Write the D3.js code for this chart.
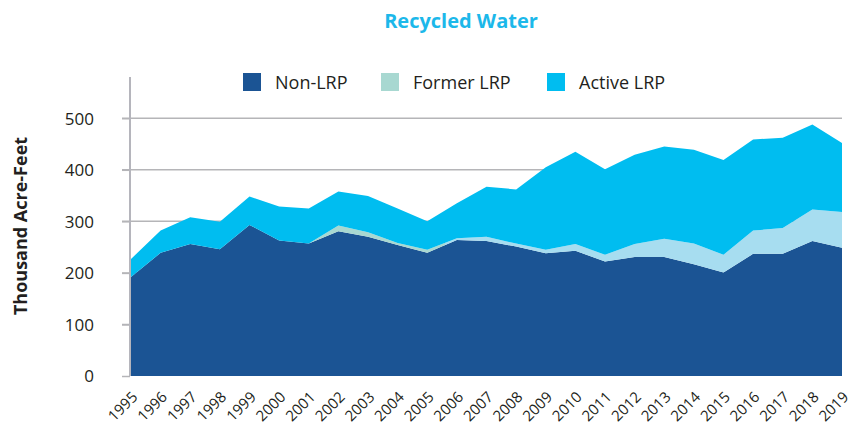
<!DOCTYPE html>
<html>
<head>
<meta charset="utf-8">
<script src="https://cdn.jsdelivr.net/npm/d3@7"></script>
<style>
  body { margin: 0; background: #fff; }
  text { font-family: "Open Sans", "Noto Sans", sans-serif; fill: #231f20; }
</style>
</head>
<body>
<div id="chart"></div>
<script>
// data, thousand acre-feet
const years = [1995, 1996, 1997, 1998, 1999, 2000, 2001, 2002, 2003, 2004, 2005, 2006,
  2007, 2008, 2009, 2010, 2011, 2012, 2013, 2014, 2015, 2016, 2017, 2018, 2019];
const nonLRP = [192, 239, 256, 246, 293, 263, 257, 281, 270, 254, 239, 264,
  262, 251, 238, 243, 222, 231, 231, 217, 201, 237, 237, 262, 249];
const formerLRP = [0, 0, 0, 0, 0, 0, 0, 11, 9, 4, 6, 3,
  8, 6, 7, 13, 13, 25, 35, 40, 34, 45, 50, 61, 69];
const activeLRP = [35, 43, 52, 53, 55, 66, 68, 66, 70, 67, 55, 68,
  97, 105, 160, 179, 166, 173, 179, 182, 184, 177, 175, 165, 134];
const seriesNames = ["Non-LRP", "Former LRP", "Active LRP"];
const yTicks = [0, 100, 200, 300, 400, 500];

const width = 864, height = 436;
const colors = { "Non-LRP": "#1b5494", "Former LRP": "url(#formerGrad)", "Active LRP": "#00bdf0" };
const swatch = { "Non-LRP": "#1b5494", "Former LRP": "#a8d8d1", "Active LRP": "#00bdf0" };

const svg = d3.select("#chart")
  .append("svg")
  .attr("width", width)
  .attr("height", height);

const x = d3.scaleLinear()
  .domain([1995, 2019])
  .range([131, 842]);

const y = d3.scaleLinear()
  .domain([0, 580])
  .range([376, 77]);

const table = years.map((yr, i) => ({
  year: yr,
  "Non-LRP": nonLRP[i],
  "Former LRP": formerLRP[i],
  "Active LRP": activeLRP[i]
}));
const stacked = d3.stack().keys(seriesNames)(table);

// former LRP band changes tint from mint to light blue around 2006
const grad = svg.append("defs").append("linearGradient")
  .attr("id", "formerGrad")
  .attr("gradientUnits", "userSpaceOnUse")
  .attr("x1", x(1995)).attr("x2", x(2019))
  .attr("y1", 0).attr("y2", 0);
const cut = (x(2005.6) - x(1995)) / (x(2019) - x(1995));
grad.append("stop").attr("offset", 0).attr("stop-color", "#a8d8d1");
grad.append("stop").attr("offset", cut).attr("stop-color", "#a8d8d1");
grad.append("stop").attr("offset", cut).attr("stop-color", "#a7ddf0");
grad.append("stop").attr("offset", 1).attr("stop-color", "#a7ddf0");

// gridlines
svg.append("g")
  .selectAll("line")
  .data(yTicks.filter(d => d > 0))
  .join("line")
  .attr("x1", 122)
  .attr("x2", 842)
  .attr("y1", d => y(d))
  .attr("y2", d => y(d))
  .attr("stroke", "#b5b5b8")
  .attr("stroke-width", 1.5);

// areas
const area = d3.area()
  .x(d => x(d.data.year))
  .y0(d => y(d[0]))
  .y1(d => y(d[1]));

svg.append("g")
  .selectAll("path")
  .data(stacked)
  .join("path")
  .attr("d", area)
  .attr("fill", d => colors[d.key]);

// y axis
const yAxis = svg.append("g")
  .attr("transform", "translate(130,0)")
  .call(d3.axisLeft(y).tickValues(yTicks).tickSize(8).tickPadding(28));
yAxis.select(".domain").remove();
yAxis.selectAll(".tick line").attr("stroke", "#b5b5b8").attr("stroke-width", 1.5);
yAxis.selectAll("text")
  .style("font-size", "17px")
  .attr("fill", "#231f20")
  .attr("dy", "0.35em");

svg.append("line")
  .attr("x1", 130).attr("x2", 130)
  .attr("y1", y(580)).attr("y2", y(0))
  .attr("stroke", "#b5b5bc")
  .attr("stroke-width", 2);

// x axis labels
const xAxis = svg.append("g")
  .attr("transform", "translate(0,376)")
  .call(d3.axisBottom(x).tickValues(years).tickFormat(d3.format("d")).tickSize(0));
xAxis.select(".domain").remove();
xAxis.selectAll("text")
  .style("font-size", "15px")
  .attr("fill", "#231f20")
  .attr("text-anchor", "end")
  .attr("y", 0)
  .attr("dy", 0)
  .attr("transform", "translate(7,22) rotate(-45)");

// y axis title
svg.append("text")
  .attr("transform", "translate(27,226) rotate(-90)")
  .attr("text-anchor", "middle")
  .style("font-size", "18px")
  .style("font-weight", "bold")
  .text("Thousand Acre-Feet");

// title
svg.append("text")
  .attr("x", 461)
  .attr("y", 28)
  .attr("text-anchor", "middle")
  .style("font-size", "20px")
  .style("font-weight", "bold")
  .style("fill", "#1cb8ea")
  .text("Recycled Water");

// legend
const legendX = [243, 381, 547];
const legend = svg.append("g")
  .selectAll("g")
  .data(seriesNames)
  .join("g")
  .attr("transform", (d, i) => `translate(${legendX[i]},73)`);
legend.append("rect")
  .attr("width", 18)
  .attr("height", 18)
  .attr("fill", d => swatch[d]);
legend.append("text")
  .attr("x", 32)
  .attr("y", 16)
  .style("font-size", "18px")
  .text(d => d);
</script>
</body>
</html>
